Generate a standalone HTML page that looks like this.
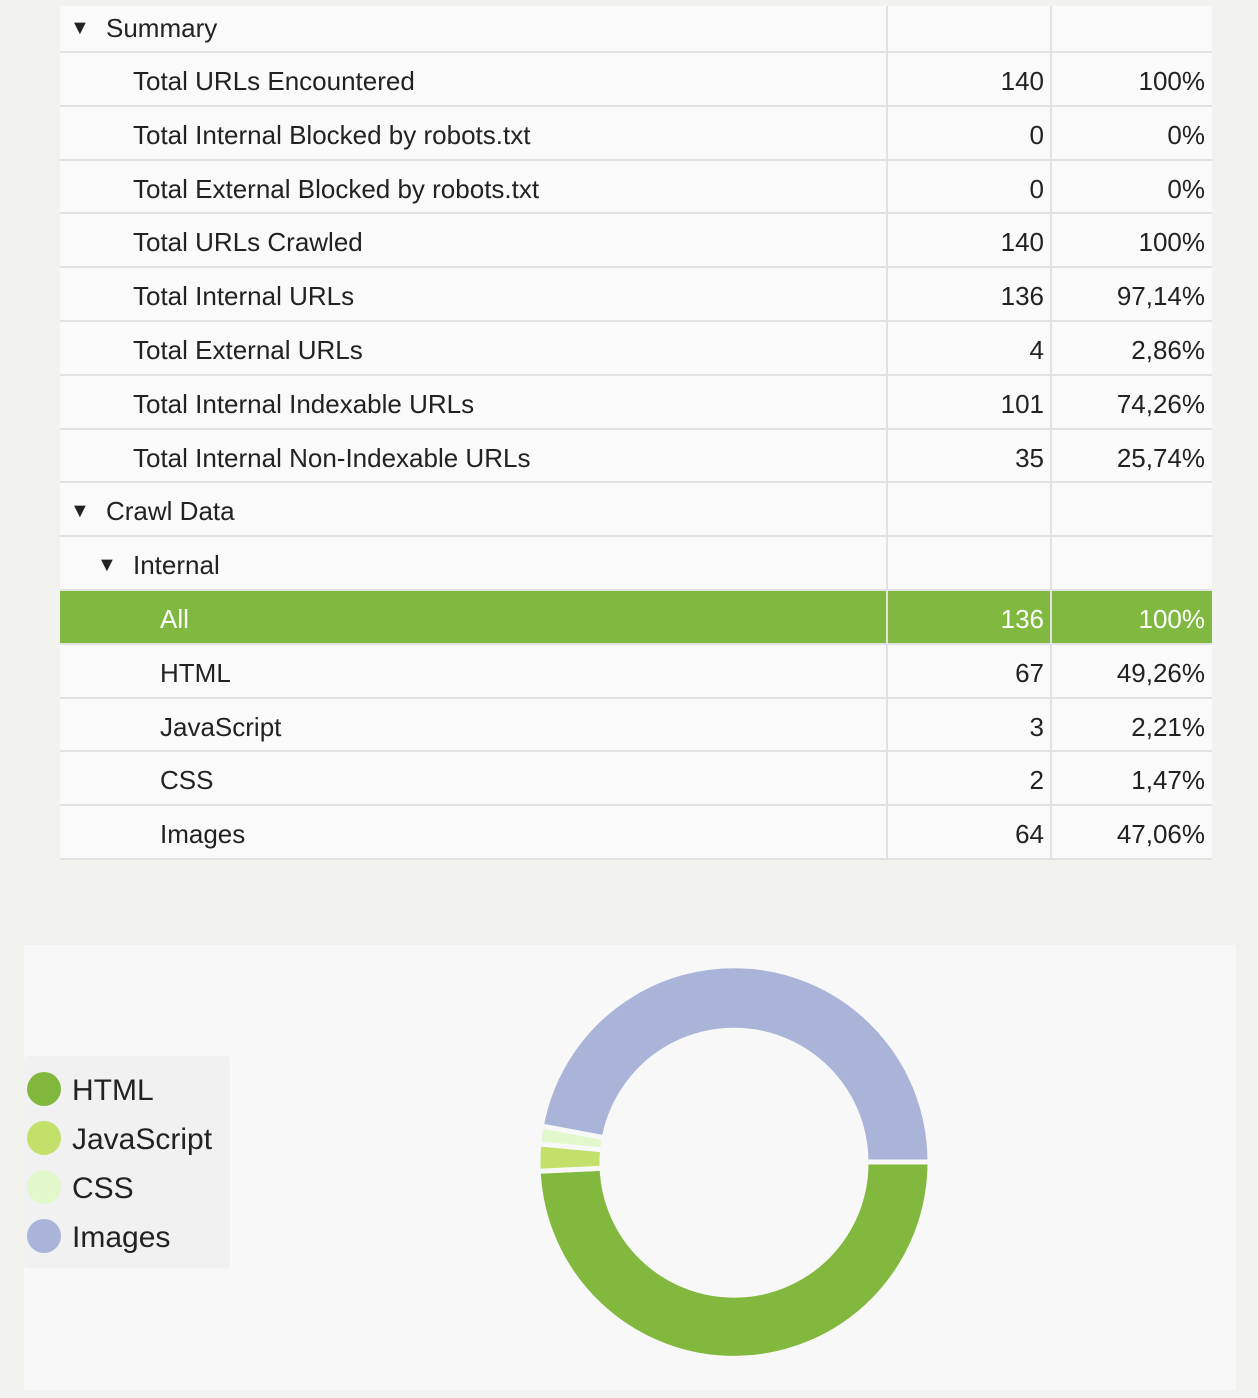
<!DOCTYPE html>
<html><head><style>
body{margin:0;width:1258px;height:1398px;background:#f2f2ee;position:relative;overflow:hidden;font-family:"Liberation Sans",sans-serif;color:#222}
.tbl{position:absolute;left:60px;top:6px;width:1152px;background:#fafafa}
.row{position:relative;height:51.8px;border-bottom:2px solid #e2e2e2;font-size:26px;line-height:51.8px}
.row.first{height:45px;line-height:45px}
.row span{position:absolute;top:3px}
.row.first span{top:0}
.c1{position:absolute;left:826px;top:0;bottom:0;border-left:2px solid #e2e2e2}
.c2{position:absolute;left:990px;top:0;bottom:0;border-left:2px solid #e2e2e2}
.n1{right:168px}.n2{right:7px}
.sel{background:#80b840;color:#fff}
.tri{font-size:20px}
</style></head><body>
<div class="tbl">
<div class="row first"><span class="tri" style="left:10px">▼</span><span style="left:46px">Summary</span><div class="c1"></div><div class="c2"></div></div>
<div class="row"><span style="left:73px">Total URLs Encountered</span><div class="c1"></div><div class="c2"></div><span class="n1">140</span><span class="n2">100%</span></div>
<div class="row"><span style="left:73px">Total Internal Blocked by robots.txt</span><div class="c1"></div><div class="c2"></div><span class="n1">0</span><span class="n2">0%</span></div>
<div class="row"><span style="left:73px">Total External Blocked by robots.txt</span><div class="c1"></div><div class="c2"></div><span class="n1">0</span><span class="n2">0%</span></div>
<div class="row"><span style="left:73px">Total URLs Crawled</span><div class="c1"></div><div class="c2"></div><span class="n1">140</span><span class="n2">100%</span></div>
<div class="row"><span style="left:73px">Total Internal URLs</span><div class="c1"></div><div class="c2"></div><span class="n1">136</span><span class="n2">97,14%</span></div>
<div class="row"><span style="left:73px">Total External URLs</span><div class="c1"></div><div class="c2"></div><span class="n1">4</span><span class="n2">2,86%</span></div>
<div class="row"><span style="left:73px">Total Internal Indexable URLs</span><div class="c1"></div><div class="c2"></div><span class="n1">101</span><span class="n2">74,26%</span></div>
<div class="row"><span style="left:73px">Total Internal Non-Indexable URLs</span><div class="c1"></div><div class="c2"></div><span class="n1">35</span><span class="n2">25,74%</span></div>
<div class="row"><span class="tri" style="left:10px">▼</span><span style="left:46px">Crawl Data</span><div class="c1"></div><div class="c2"></div></div>
<div class="row"><span class="tri" style="left:37px">▼</span><span style="left:73px">Internal</span><div class="c1"></div><div class="c2"></div></div>
<div class="row sel"><span style="left:100px">All</span><div class="c1"></div><div class="c2"></div><span class="n1">136</span><span class="n2">100%</span></div>
<div class="row"><span style="left:100px">HTML</span><div class="c1"></div><div class="c2"></div><span class="n1">67</span><span class="n2">49,26%</span></div>
<div class="row"><span style="left:100px">JavaScript</span><div class="c1"></div><div class="c2"></div><span class="n1">3</span><span class="n2">2,21%</span></div>
<div class="row"><span style="left:100px">CSS</span><div class="c1"></div><div class="c2"></div><span class="n1">2</span><span class="n2">1,47%</span></div>
<div class="row"><span style="left:100px">Images</span><div class="c1"></div><div class="c2"></div><span class="n1">64</span><span class="n2">47,06%</span></div>
</div>
<div style="position:absolute;left:24px;top:945px;width:1212px;height:445px;background:#f8f8f8"></div>
<div style="position:absolute;left:24px;top:1056px;width:206px;height:212px;background:#f1f1f1;border-radius:4px"></div>
<svg style="position:absolute;left:0;top:0" width="1258" height="1398">
<g font-family="Liberation Sans, sans-serif" font-size="30" fill="#222">
<circle cx="44" cy="1089" r="17" fill="#82b83e"/><text x="72" y="1100">HTML</text>
<circle cx="44" cy="1138" r="17" fill="#c2e06a"/><text x="72" y="1149">JavaScript</text>
<circle cx="44" cy="1187" r="17" fill="#e2f7cb"/><text x="72" y="1198">CSS</text>
<circle cx="44" cy="1236" r="17" fill="#aab4d8"/><text x="72" y="1247">Images</text>
</g>
<g stroke="#f8f8f8" stroke-width="5" stroke-linejoin="miter">
<path d="M930,1162 A196,196 0 0 1 538.2,1171.2 L602.1,1168.2 A132,132 0 0 0 866,1162 Z" fill="#82b83e"/>
<path d="M538.2,1171.2 A196,196 0 0 1 538.8,1143.9 L602.6,1149.8 A132,132 0 0 0 602.1,1168.2 Z" fill="#c2e06a"/>
<path d="M538.8,1143.9 A196,196 0 0 1 541.3,1125.9 L604.3,1137.7 A132,132 0 0 0 602.6,1149.8 Z" fill="#e2f7cb"/>
<path d="M541.3,1125.9 A196,196 0 0 1 930,1162 L866,1162 A132,132 0 0 0 604.3,1137.7 Z" fill="#aab4d8"/>
</g>
</svg>
</body></html>
